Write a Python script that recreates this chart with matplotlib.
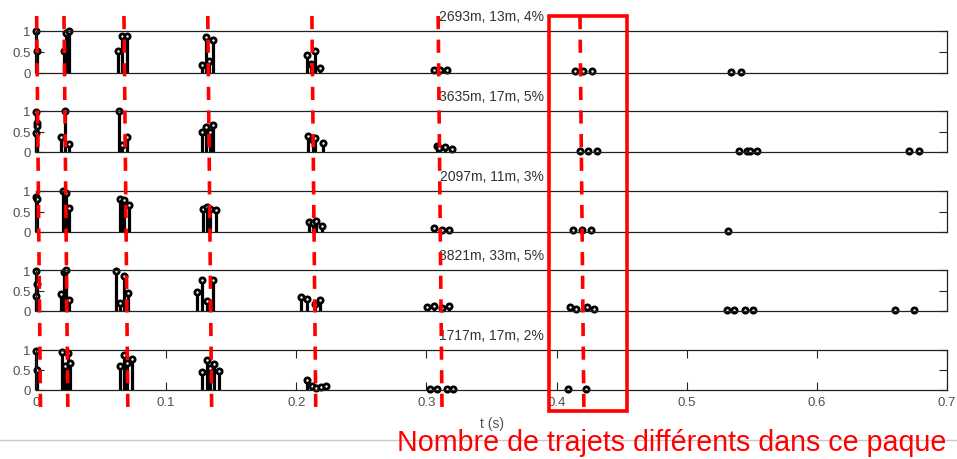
import matplotlib
matplotlib.use("Agg")
import matplotlib.pyplot as plt
from matplotlib.patches import Rectangle
from matplotlib.lines import Line2D
from matplotlib.transforms import blended_transform_factory

plt.rcParams['font.family'] = ['Liberation Sans', 'DejaVu Sans']
plt.rcParams['lines.scale_dashes'] = False

# donnees : instants (s) et amplitudes de chaque trajet
t1 = [0.0, 0.0008, 0.0215, 0.0233, 0.0251, 0.0630, 0.0664, 0.0700, 0.1273, 0.1307, 0.1330, 0.1358,
      0.2085, 0.2115, 0.2145, 0.2185, 0.3055, 0.3105, 0.3155, 0.4140, 0.4205, 0.4275, 0.5340, 0.5415]
a1 = [1.0, 0.53, 0.53, 0.95, 1.0, 0.53, 0.89, 0.87, 0.20, 0.85, 0.29, 0.79,
      0.44, 0.22, 0.52, 0.12, 0.07, 0.07, 0.08, 0.05, 0.05, 0.04, 0.03, 0.03]

t2 = [0.0, 0.0004, 0.0008, 0.0002, 0.0195, 0.0225, 0.0250, 0.0638, 0.0664, 0.0700, 0.1273, 0.1307,
      0.1335, 0.1358, 0.2088, 0.2125, 0.2145, 0.2204, 0.3080, 0.3100, 0.3145, 0.3195, 0.4180, 0.4240,
      0.4310, 0.5405, 0.5465, 0.5485, 0.5540, 0.6710, 0.6787]
a2 = [0.98, 0.70, 0.64, 0.47, 0.36, 0.99, 0.20, 0.99, 0.18, 0.37, 0.49, 0.60,
      0.48, 0.67, 0.38, 0.30, 0.33, 0.22, 0.15, 0.10, 0.12, 0.07, 0.02, 0.02,
      0.02, 0.02, 0.02, 0.02, 0.02, 0.02, 0.02]

t3 = [0.0, 0.0006, 0.0207, 0.0228, 0.0255, 0.0643, 0.0665, 0.0676, 0.0712, 0.1286, 0.1317, 0.1340,
      0.1380, 0.2095, 0.2130, 0.2155, 0.2195, 0.3060, 0.3120, 0.3175, 0.4130, 0.4195, 0.4265, 0.5315]
a3 = [0.85, 0.80, 1.0, 0.94, 0.58, 0.81, 0.72, 0.79, 0.67, 0.56, 0.60, 0.56,
      0.54, 0.25, 0.22, 0.28, 0.15, 0.09, 0.05, 0.04, 0.04, 0.04, 0.04, 0.03]

t4 = [0.0, 0.0005, 0.0002, 0.0195, 0.0215, 0.0233, 0.0255, 0.0617, 0.0643, 0.0676, 0.0705, 0.1240,
      0.1275, 0.1315, 0.1358, 0.2040, 0.2080, 0.2141, 0.2183, 0.3003, 0.3055, 0.3118, 0.3170, 0.4105,
      0.4150, 0.4237, 0.4284, 0.5310, 0.5365, 0.5450, 0.5506, 0.6597, 0.6743]
a4 = [0.98, 0.66, 0.36, 0.41, 0.94, 1.0, 0.27, 0.98, 0.20, 0.86, 0.45, 0.46,
      0.76, 0.25, 0.75, 0.33, 0.29, 0.18, 0.27, 0.10, 0.11, 0.07, 0.12, 0.10,
      0.04, 0.09, 0.04, 0.02, 0.02, 0.02, 0.02, 0.02, 0.02]

t5 = [0.0, 0.0005, 0.0203, 0.0222, 0.0245, 0.0265, 0.0643, 0.0674, 0.0700, 0.0740, 0.1278, 0.1317,
      0.1340, 0.1368, 0.1407, 0.2085, 0.2120, 0.2155, 0.2190, 0.2225, 0.3028, 0.3080, 0.3157, 0.3203,
      0.4090, 0.4228]
a5 = [0.97, 0.49, 0.96, 0.60, 0.93, 0.68, 0.59, 0.88, 0.68, 0.78, 0.46, 0.75,
      0.55, 0.66, 0.48, 0.24, 0.11, 0.05, 0.07, 0.10, 0.03, 0.03, 0.03, 0.03,
      0.03, 0.03]

titres = ['2693m, 13m, 4%', '3635m, 17m, 5%', '2097m, 11m, 3%', '3821m, 33m, 5%', '1717m, 17m, 2%']
xticks = [0, 0.1, 0.2, 0.3, 0.4, 0.5, 0.6, 0.7]
xticklabels = ['0', '0.1', '0.2', '0.3', '0.4', '0.5', '0.6', '0.7']
yticks = [0, 0.5, 1]
yticklabels = ['0', '0.5', '1']

# positions des pics (traits rouges) et du cadre
t_pics = [0.0005, 0.0215, 0.0676, 0.132, 0.212, 0.309, 0.418]
cadre = [0.3943, 0.4543]

W, H = 957, 460
fig = plt.figure(figsize=(W / 100, H / 100), dpi=100)

# pixels : haut et bas de chaque sous-figure
hauts = [32, 112, 192, 271, 351]
bas = [74, 153, 233, 312, 391]
gauche, droite = 36, 947
gris = '#505050'

series = [(t1, a1), (t2, a2), (t3, a3), (t4, a4), (t5, a5)]
axes = []
for i, (t, a) in enumerate(series):
    ax = fig.add_axes([gauche / W, 1 - bas[i] / H, (droite - gauche) / W, (bas[i] - hauts[i]) / H])
    ml, sl, bl = ax.stem(t, a, linefmt='k-', markerfmt='ko', basefmt=' ')
    sl.set_linewidth(2.3)
    sl.set_clip_on(False)
    ml.set_markersize(3.8)
    ml.set_markerfacecolor('white')
    ml.set_markeredgecolor('black')
    ml.set_markeredgewidth(2.0)
    ml.set_clip_on(False)
    bl.set_visible(False)
    ax.set_xlim(0, 0.7)
    ax.set_ylim(0, 1)
    ax.set_yticks(yticks)
    ax.set_yticklabels(yticklabels)
    ax.tick_params(axis='both', direction='in', length=6, width=0.8, colors='#222222',
                   labelcolor=gris, labelsize=9.5, right=True, top=True, pad=4)
    if i < 4:
        ax.set_xticks([])
    else:
        ax.set_xticks(xticks)
        ax.set_xticklabels(xticklabels)
        ax.set_xlabel('t (s)', fontsize=10, color=gris, labelpad=6)
    for s in ax.spines.values():
        s.set_linewidth(0.9)
        s.set_color('#222222')
    ax.set_title(titres[i], fontsize=10, color='#333333', pad=8)
    axes.append(ax)

# ligne grise en bas
fig.add_artist(Line2D([0, 1], [1 - 441 / H, 1 - 441 / H], transform=fig.transFigure,
                      color='#c8c8c8', lw=1))

# traits rouges en pointilles (legerement penches)
tr = blended_transform_factory(axes[-1].transData, fig.transFigure)
y_haut, y_bas = 1 - 17 / H, 1 - 413 / H
for tp in t_pics:
    fig.add_artist(Line2D([tp, tp + 0.003], [y_haut, y_bas], transform=tr, color='#ff0000',
                          lw=2.6, linestyle=(0, (9.5, 7.5)), zorder=10))

fig.add_artist(Rectangle((cadre[0], 1 - 412 / H), cadre[1] - cadre[0], (412 - 17) / H,
                         transform=tr, fill=False, edgecolor='#ff0000', lw=2.6, zorder=10))

# texte tronque comme sur l'original
fig.text(397 / W, 1 - 451 / H, 'Nombre de trajets différents dans ce paque', color='#ff0000',
         fontsize=20.6, ha='left', va='baseline')

fig.savefig('out.png', dpi=100)
